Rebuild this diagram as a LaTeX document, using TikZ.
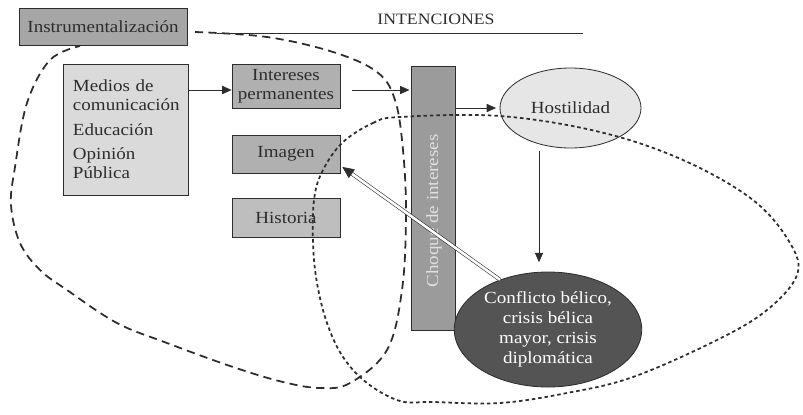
\documentclass[tikz,border=0pt]{standalone}
\usepackage{fontspec}
\setmainfont[FakeStretch=1.12]{Liberation Serif}
\usetikzlibrary{shapes.geometric,arrows.meta}
\definecolor{inkdark}{RGB}{45,45,45}
\definecolor{boxgray}{RGB}{176,176,176}
\definecolor{topgray}{RGB}{166,166,166}
\definecolor{histgray}{RGB}{190,190,190}
\definecolor{palegray}{RGB}{218,218,218}
\definecolor{bargray}{RGB}{155,155,155}
\definecolor{hostgray}{RGB}{230,230,230}
\definecolor{warfill}{RGB}{84,84,84}
\tikzset{
  box/.style={draw=inkdark, line width=0.7pt, fill=boxgray, text=inkdark, align=center, inner sep=2pt, font=\fontsize{14.5}{16}\selectfont},
  arr/.style={-{Triangle[length=8pt,width=7pt]}, line width=0.6pt, inkdark},
  loopdash/.style={line width=1.5pt, inkdark, dash pattern=on 7pt off 4.5pt},
  loopdot/.style={line width=1.5pt, inkdark, dash pattern=on 3pt off 2.5pt}
}

\begin{document}
\begin{tikzpicture}[x=0.03cm, y=-0.03cm]
  \useasboundingbox (0,0) rectangle (803,414);
  % title
  \node[font=\fontsize{13.5}{15}\selectfont, text=inkdark] (intenc) at (436,19) {INTENCIONES};
  \draw[line width=0.7pt, inkdark] (217,33) -- (583,33);
  % boxes
  \node[box, fill=topgray, minimum width=5.04cm, minimum height=1.11cm] (instr) at (103,26.5) {Instrumentalización};
  \node[box, fill=palegray, minimum width=3.75cm, minimum height=3.93cm, text width=3.15cm, align=left] (medios) at (125.5,129.5) {Medios de\\comunicación\\[5pt]Educación\\[5pt]Opinión\\Pública};
  \node[box, minimum width=3.24cm, minimum height=1.32cm] (intereses) at (286,86) {Intereses\\permanentes};
  \node[box, minimum width=3.24cm, minimum height=1.14cm] (imagen) at (286,154) {Imagen};
  \node[box, fill=histgray, minimum width=3.24cm, minimum height=1.17cm] (historia) at (286,217.5) {Historia};
  \node[box, fill=bargray, minimum width=1.32cm, minimum height=7.92cm] (choque) at (433,198) {};
  \node[rotate=90, text=white!88!black, font=\fontsize{14.5}{16}\selectfont] (choquetxt) at (434,211) {Choque de intereses};
  \node[box, ellipse, fill=hostgray, minimum width=4.23cm, minimum height=2.4cm] (hostil) at (570.5,108) {Hostilidad};
  \node[box, ellipse, fill=warfill, text=white, minimum width=5.01cm, minimum height=3.45cm, font=\fontsize{14.5}{17}\selectfont] (conflicto) at (548,329.5) {Conflicto bélico,\\crisis bélica\\mayor, crisis\\diplomática};
  % zones
  \draw[loopdash] plot[smooth, tension=0.6] coordinates {(195,32) (267,37) (333,52) (377,72) (395,100) (403,150) (406,215) (402,290) (387,350) (350,383) (320,388) (283,382) (233,367) (167,343) (117,323) (67,290) (40,270) (20,243) (11,205) (15,167) (27,103) (50,60) (80,46)};
  \draw[loopdot] plot[smooth cycle, tension=0.6] coordinates {(342,143) (373,123) (400,117) (500,116) (600,132) (683,160) (753,200) (790,243) (797,275) (767,310) (717,340) (633,377) (567,393) (500,403) (433,402) (400,401) (367,383) (343,357) (327,323) (317,283) (313,243) (314,200) (322,172)};
  % arrows
  \coordinate (row) at (0,90);
  \draw[arr] (medios.east |- row) -- (intereses.west |- row);
  \draw[arr, shorten <=10pt, shorten >=1pt] (intereses.east |- row) -- (choque.west |- row);
  \draw[arr, shorten >=3pt] (choque.east |- hostil.west) -- (hostil.west);
  \coordinate (drop) at (539,0);
  \draw[arr, shorten <=2pt, shorten >=8pt] (hostil.south -| drop) -- (conflicto.north -| drop);
  \draw[double=white, double distance=2.2pt, line width=0.5pt, inkdark, -{Triangle[length=10pt,width=9pt]}, shorten >=2pt] (conflicto.134) -- (imagen.-12);
\end{tikzpicture}
\end{document}
